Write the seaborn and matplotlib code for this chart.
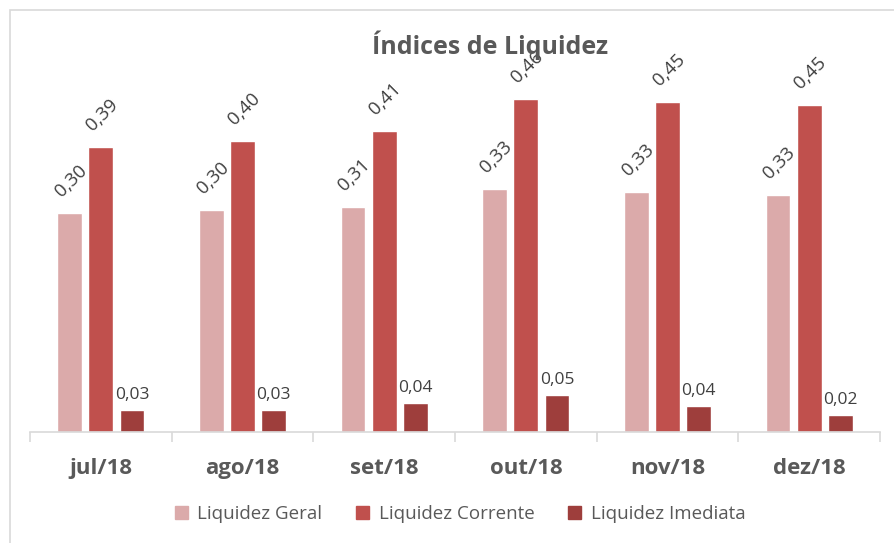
import pandas as pd
import numpy as np
import matplotlib.pyplot as plt
import seaborn as sns
from matplotlib.patches import Rectangle
from matplotlib.ticker import FixedLocator

meses = ["jul/18", "ago/18", "set/18", "out/18", "nov/18", "dez/18"]
series = ["Liquidez Geral", "Liquidez Corrente", "Liquidez Imediata"]
geral = [0.300, 0.304, 0.308, 0.333, 0.329, 0.325]
corrente = [0.390, 0.399, 0.412, 0.456, 0.452, 0.448]
imediata = [0.030, 0.030, 0.040, 0.051, 0.036, 0.023]
cores = ["#DBAAAA", "#C0504D", "#9E3E3C"]


def montar_df():
    linhas = []
    for nome, vals in zip(series, [geral, corrente, imediata]):
        for m, v in zip(meses, vals):
            linhas.append({"Mes": m, "Indice": nome, "Valor": v})
    return pd.DataFrame(linhas)


def grafico(df):
    sns.set_theme(style="white")
    plt.rcParams['font.family'] = ['Open Sans', 'DejaVu Sans']
    cinza = "#595959"

    fig = plt.figure(figsize=(8.95, 5.43), dpi=100)
    ax = fig.add_axes([30 / 895, 1 - 432 / 543, 850 / 895, 372 / 543])

    sns.barplot(data=df, x="Mes", y="Valor", hue="Indice", order=meses,
                hue_order=series, palette=cores, width=0.66, gap=0.2,
                saturation=1, ax=ax, legend=True)

    ax.set_xlim(-0.5, len(meses) - 0.5)
    ax.set_ylim(0, 372 / 730)

    # rotulos de dados
    for i, cont in enumerate(ax.containers):
        for bar, v in zip(cont, [geral, corrente, imediata][i]):
            x = bar.get_x() + bar.get_width() / 2
            txt = f"{v:.2f}".replace(".", ",")
            if i < 2:
                ax.annotate(txt, (x, v), xytext=(1, 23), textcoords="offset points",
                            ha="center", va="center", rotation=45,
                            fontsize=13.5, color="#404040")
            else:
                ax.annotate(txt, (x, v), xytext=(0, 5), textcoords="offset points",
                            ha="center", va="bottom", fontsize=12.5, color="#404040")

    for s in ["top", "right", "left"]:
        ax.spines[s].set_visible(False)
    ax.spines["bottom"].set_color("#D9D9D9")
    ax.spines["bottom"].set_linewidth(1.2)
    ax.set_yticks([])
    ax.set_xlabel("")
    ax.set_ylabel("")
    ax.tick_params(axis="x", which="major", length=0, pad=19, labelsize=16,
                   labelcolor=cinza)
    for t in ax.get_xticklabels():
        t.set_fontweight("bold")
    ax.xaxis.set_minor_locator(FixedLocator(np.arange(-0.5, len(meses), 1)))
    ax.tick_params(axis="x", which="minor", bottom=True, length=7, width=1.2,
                   color="#D9D9D9", direction="out")

    fig.text(490 / 895, 1 - 45 / 543, "Índices de Liquidez", ha="center",
             va="center", fontsize=18, fontweight="bold", color=cinza)

    ax.legend_.remove()
    handles = [Rectangle((0, 0), 1, 1, color=c) for c in cores]
    fig.legend(handles, series, loc="center", bbox_to_anchor=(460 / 895, 1 - 514 / 543),
               ncol=3, frameon=False, fontsize=13.5, handlelength=0.7, handleheight=0.7,
               handletextpad=0.5, columnspacing=1.8, labelcolor=cinza)

    fig.patches.append(Rectangle((10 / 895, -0.05), 2, 1 - 10 / 543 + 0.05,
                                 transform=fig.transFigure, fill=False,
                                 edgecolor="#D9D9D9", linewidth=1.2))

    fig.savefig("out.png", dpi=100)


def main():
    df = montar_df()
    grafico(df)


if __name__ == "__main__":
    main()
